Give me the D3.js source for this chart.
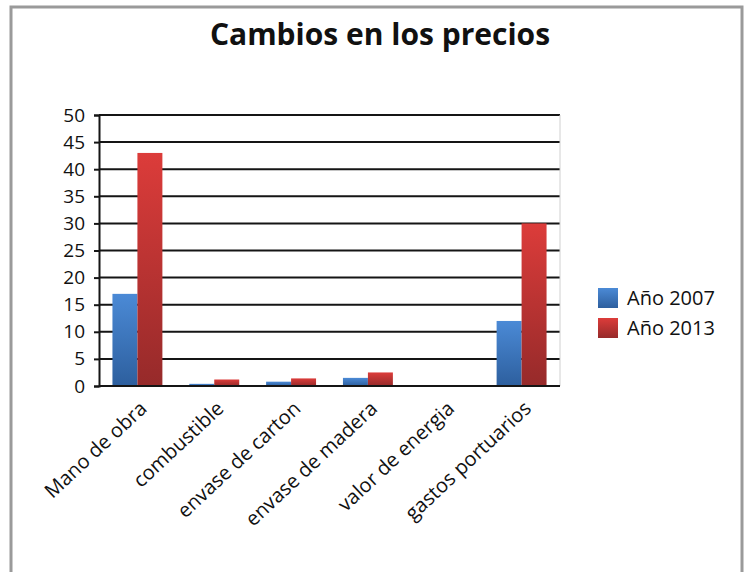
<!DOCTYPE html>
<html>
<head>
<meta charset="utf-8">
<script src="https://cdn.jsdelivr.net/npm/d3@7"></script>
<style>
  body { margin: 0; background: #fff; }
  text { font-family: "Open Sans", "Noto Sans", sans-serif; fill: #111; }
</style>
</head>
<body>
<div id="chart"></div>
<script>
const categories = ['Mano de obra', 'combustible', 'envase de carton', 'envase de madera', 'valor de energia', 'gastos portuarios'];
const seriesNames = ['Año 2007', 'Año 2013'];
const values2007 = [17, 0.4, 0.8, 1.5, 0.05, 12];
const values2013 = [43, 1.2, 1.4, 2.5, 0.1, 30];
const yTicks = [0, 5, 10, 15, 20, 25, 30, 35, 40, 45, 50];

const fullWidth = 752;
const fullHeight = 572;
const margin = {top: 115, left: 99, right: 192, bottom: 186};
const width = fullWidth - margin.left - margin.right;
const height = fullHeight - margin.top - margin.bottom;

const svg = d3.select('#chart')
  .append('svg')
  .attr('width', fullWidth)
  .attr('height', fullHeight);

// gradients for bar fills
const defs = svg.append('defs');
const grads = [['blueGrad', '#4b8ad6', '#2d5f9e'], ['redGrad', '#dc3c3a', '#962a2a']];
grads.forEach(g => {
  const lg = defs.append('linearGradient')
    .attr('id', g[0])
    .attr('x1', 0).attr('y1', 0).attr('x2', 0).attr('y2', 1);
  lg.append('stop').attr('offset', '0%').attr('stop-color', g[1]);
  lg.append('stop').attr('offset', '100%').attr('stop-color', g[2]);
});

// outer frame
svg.append('rect')
  .attr('x', 11).attr('y', 7)
  .attr('width', 731).attr('height', 580)
  .attr('fill', 'none')
  .attr('stroke', '#9a9a9a')
  .attr('stroke-width', 3);

svg.append('text')
  .attr('x', 380)
  .attr('y', 45)
  .attr('text-anchor', 'middle')
  .style('font-size', '30px')
  .style('font-weight', 'bold')
  .text('Cambios en los precios');

const g = svg.append('g')
  .attr('transform', 'translate(' + margin.left + ',' + margin.top + ')');

const x0 = d3.scaleBand()
  .domain(categories)
  .range([0, width])
  .paddingInner(0.35)
  .paddingOuter(0.175);

const x1 = d3.scaleBand()
  .domain(seriesNames)
  .range([0, x0.bandwidth()]);

const y = d3.scaleLinear()
  .domain([0, 50])
  .range([height, 0]);

// gridlines
g.selectAll('.grid')
  .data(yTicks)
  .enter().append('line')
    .attr('class', 'grid')
    .attr('x1', 0)
    .attr('x2', width)
    .attr('y1', d => y(d))
    .attr('y2', d => y(d))
    .attr('stroke', '#151515')
    .attr('stroke-width', 2);

g.append('line')
  .attr('x1', width).attr('x2', width)
  .attr('y1', 0).attr('y2', height)
  .attr('stroke', '#d0d0d0')
  .attr('stroke-width', 1);

const yAxis = g.append('g')
  .call(d3.axisLeft(y).tickValues(yTicks).tickSize(5).tickPadding(9));
yAxis.select('.domain').attr('stroke', '#151515').attr('stroke-width', 2);
yAxis.selectAll('.tick line').attr('stroke', '#151515').attr('stroke-width', 2);
yAxis.selectAll('text')
  .style('font-size', '19px')
  .attr('fill', '#111');

const rows = categories.map((c, i) => ({cat: c, vals: [values2007[i], values2013[i]]}));

const groups = g.selectAll('.grp')
  .data(rows)
  .enter().append('g')
    .attr('class', 'grp')
    .attr('transform', d => 'translate(' + x0(d.cat) + ',0)');

groups.selectAll('rect')
  .data(d => d.vals.map((v, j) => ({name: seriesNames[j], value: v, j: j})))
  .enter().append('rect')
    .attr('x', d => x1(d.name))
    .attr('y', d => y(d.value))
    .attr('width', x1.bandwidth())
    .attr('height', d => height - y(d.value))
    .attr('fill', d => d.j === 0 ? 'url(#blueGrad)' : 'url(#redGrad)');

// baseline on top of bars
g.append('line')
  .attr('x1', 0).attr('x2', width)
  .attr('y1', height).attr('y2', height)
  .attr('stroke', '#151515')
  .attr('stroke-width', 2);

const xAxis = g.append('g')
  .attr('transform', 'translate(0,' + height + ')')
  .call(d3.axisBottom(x0).tickSize(0).tickPadding(0));
xAxis.select('.domain').remove();
xAxis.selectAll('text')
  .style('font-size', '20px')
  .attr('fill', '#111')
  .attr('text-anchor', 'end')
  .attr('dy', '0.35em')
  .attr('transform', 'translate(6,19) rotate(-43)');

// legend
const legend = svg.append('g')
  .attr('transform', 'translate(598,288)');
seriesNames.forEach((s, i) => {
  legend.append('rect')
    .attr('x', 0)
    .attr('y', i * 30)
    .attr('width', 20)
    .attr('height', 20)
    .attr('fill', i === 0 ? 'url(#blueGrad)' : 'url(#redGrad)');
  legend.append('text')
    .attr('x', 29)
    .attr('y', i * 30 + 10)
    .attr('dy', '0.35em')
    .style('font-size', '20px')
    .text(s);
});
</script>
</body>
</html>
